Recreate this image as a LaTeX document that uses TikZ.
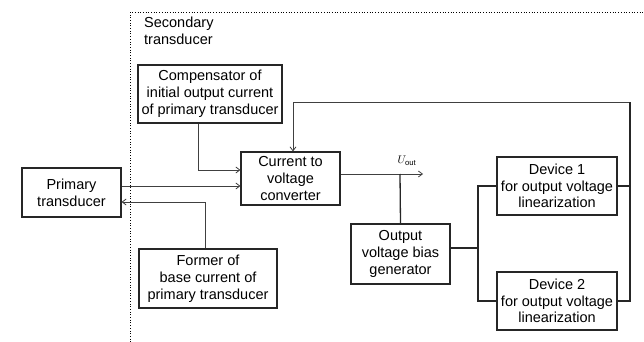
\documentclass[tikz,border=0pt]{standalone}
\usepackage{fontspec}
\setmainfont{Liberation Sans}
\usetikzlibrary{arrows.meta}
\tikzset{box/.style={rectangle,draw=black!85,line width=1.1pt,align=center,inner sep=1pt,font=\fontsize{14.5}{16.8}\selectfont},
  line/.style={draw=black!75,line width=0.8pt,-{Straight Barb[length=4pt,width=6pt]}},
  wire/.style={draw=black!85,line width=1.3pt}}

\begin{document}
\begin{tikzpicture}[x=1pt,y=-1pt]
\useasboundingbox (0,0) rectangle (644,342);
\draw[dotted,line width=0.7pt] (130,342) -- (130,12) -- (644,12);
\node[anchor=north west,align=left,inner sep=0pt,font=\fontsize{14.5}{16.8}\selectfont] (sec) at (144,17) {Secondary\\ transducer};
\node[box,minimum width=144pt,minimum height=58pt] (comp) at (210,94) {Compensator of\\initial output current\\of primary transducer};
\node[box,minimum width=99pt,minimum height=53pt] (conv) at (290.5,178.5) {Current to\\voltage\\converter};
\node[box,minimum width=99pt,minimum height=49pt] (prim) at (71.5,192.5) {Primary\\transducer};
\node[box,minimum width=138pt,minimum height=59pt] (former) at (208,278.5) {Former of\\base current of\\primary transducer};
\node[box,minimum width=99pt,minimum height=60pt] (bias) at (400.5,254) {Output\\voltage bias\\generator};
\node[box,minimum width=120pt,minimum height=58pt] (dev1) at (557,186) {Device 1\\for output voltage\\linearization};
\node[box,minimum width=120pt,minimum height=58pt] (dev2) at (557,301) {Device 2\\for output voltage\\linearization};
\coordinate (uout) at (423,174);
\coordinate (tap) at (400,174);
\coordinate (split) at (478,248);
\coordinate (fb) at (630,102);
\node[font=\fontsize{11}{13}\selectfont] (ulabel) at (407,161) {$U_{\mathrm{out}}$};
% signal paths
\draw[line] ([yshift=6.5pt]prim.east) -- ([yshift=6.5pt]prim.east -| conv.west);
\draw[line] ([xshift=-12pt]comp.south) |- ([yshift=8.5pt]conv.west);
\draw[line] ([xshift=-3pt]former.north) |- ([yshift=-9.5pt]prim.east);
\draw[line] ([yshift=4.5pt]conv.east) -- (uout);
\draw[line] (fb) -| ([xshift=2.5pt]conv.north);
% output stage
\draw[wire] (tap) -- (bias.north);
\draw[wire] ([yshift=6pt]bias.east) -- (split);
\draw[wire] (dev1.west) -| (split) |- (dev2.west);
\draw[wire] (dev1.east) -- (dev1.east -| fb);
\draw[wire] (dev2.east) -| (fb);
\end{tikzpicture}
\end{document}
